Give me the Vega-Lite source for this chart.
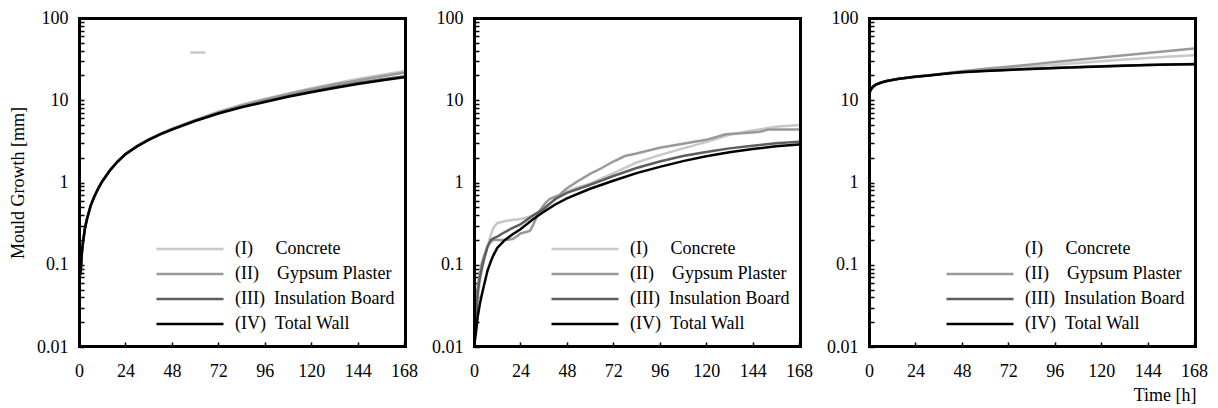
{
"$schema":"https://vega.github.io/schema/vega-lite/v6.json",
"background":"white",
"padding":{"left":8,"top":8,"right":0,"bottom":0},
"bounds":"flush",
"spacing":68,
"config":{
 "view":{"stroke":"#000000","strokeWidth":2},
 "font":"Liberation Serif, Times New Roman, Times, serif",
 "axis":{"labelFont":"Liberation Serif, Times New Roman, Times, serif","labelFontSize":18,"labelColor":"#000","titleFont":"Liberation Serif, Times New Roman, Times, serif","titleFontSize":18,"titleFontWeight":"normal","titleColor":"#000","grid":false,"domain":false,"ticks":true,"tickColor":"#000000","tickWidth":1.5,"labelOverlap":false,"labelBound":false,"labelFlush":false},
 "legend":{"orient":"none","legendX":76,"legendY":222,"padding":0,"symbolType":"stroke","symbolSize":4489,"symbolStrokeWidth":2.5,"labelFont":"Liberation Serif, Times New Roman, Times, serif","labelFontSize":18,"labelColor":"#000","labelOffset":10,"clipHeight":18,"rowPadding":7,"labelLimit":300}
},
"data":{"values":[
{"p":1,"s":"I","t":0.8,"v":0.077},{"p":1,"s":"I","t":1,"v":0.093},{"p":1,"s":"I","t":1.5,"v":0.143},{"p":1,"s":"I","t":2,"v":0.183},{"p":1,"s":"I","t":3,"v":0.273},{"p":1,"s":"I","t":4,"v":0.353},{"p":1,"s":"I","t":6,"v":0.524},{"p":1,"s":"I","t":8,"v":0.684},{"p":1,"s":"I","t":10,"v":0.855},{"p":1,"s":"I","t":12,"v":1.04},{"p":1,"s":"I","t":16,"v":1.42},{"p":1,"s":"I","t":20,"v":1.82},{"p":1,"s":"I","t":24,"v":2.23},{"p":1,"s":"I","t":30,"v":2.79},{"p":1,"s":"I","t":36,"v":3.35},{"p":1,"s":"I","t":42,"v":3.92},{"p":1,"s":"I","t":48,"v":4.5},{"p":1,"s":"I","t":60,"v":5.75},{"p":1,"s":"I","t":72,"v":7.25},{"p":1,"s":"I","t":84,"v":8.8},{"p":1,"s":"I","t":96,"v":10.4},{"p":1,"s":"I","t":108,"v":12.1},{"p":1,"s":"I","t":120,"v":14.0},{"p":1,"s":"I","t":132,"v":16.0},{"p":1,"s":"I","t":144,"v":18.1},{"p":1,"s":"I","t":156,"v":20.3},{"p":1,"s":"I","t":168,"v":22.6},
{"p":1,"s":"II","t":0.8,"v":0.077},{"p":1,"s":"II","t":1,"v":0.093},{"p":1,"s":"II","t":1.5,"v":0.143},{"p":1,"s":"II","t":2,"v":0.183},{"p":1,"s":"II","t":3,"v":0.273},{"p":1,"s":"II","t":4,"v":0.353},{"p":1,"s":"II","t":6,"v":0.523},{"p":1,"s":"II","t":8,"v":0.683},{"p":1,"s":"II","t":10,"v":0.853},{"p":1,"s":"II","t":12,"v":1.038},{"p":1,"s":"II","t":16,"v":1.415},{"p":1,"s":"II","t":20,"v":1.815},{"p":1,"s":"II","t":24,"v":2.22},{"p":1,"s":"II","t":30,"v":2.78},{"p":1,"s":"II","t":36,"v":3.34},{"p":1,"s":"II","t":42,"v":3.9},{"p":1,"s":"II","t":48,"v":4.47},{"p":1,"s":"II","t":60,"v":5.7},{"p":1,"s":"II","t":72,"v":7.15},{"p":1,"s":"II","t":84,"v":8.65},{"p":1,"s":"II","t":96,"v":10.2},{"p":1,"s":"II","t":108,"v":11.8},{"p":1,"s":"II","t":120,"v":13.6},{"p":1,"s":"II","t":132,"v":15.5},{"p":1,"s":"II","t":144,"v":17.4},{"p":1,"s":"II","t":156,"v":19.5},{"p":1,"s":"II","t":168,"v":21.6},
{"p":1,"s":"III","t":0.8,"v":0.076},{"p":1,"s":"III","t":1,"v":0.092},{"p":1,"s":"III","t":1.5,"v":0.142},{"p":1,"s":"III","t":2,"v":0.182},{"p":1,"s":"III","t":3,"v":0.272},{"p":1,"s":"III","t":4,"v":0.352},{"p":1,"s":"III","t":6,"v":0.522},{"p":1,"s":"III","t":8,"v":0.682},{"p":1,"s":"III","t":10,"v":0.852},{"p":1,"s":"III","t":12,"v":1.035},{"p":1,"s":"III","t":16,"v":1.41},{"p":1,"s":"III","t":20,"v":1.81},{"p":1,"s":"III","t":24,"v":2.21},{"p":1,"s":"III","t":30,"v":2.76},{"p":1,"s":"III","t":36,"v":3.31},{"p":1,"s":"III","t":42,"v":3.87},{"p":1,"s":"III","t":48,"v":4.42},{"p":1,"s":"III","t":60,"v":5.65},{"p":1,"s":"III","t":72,"v":6.95},{"p":1,"s":"III","t":84,"v":8.3},{"p":1,"s":"III","t":96,"v":9.65},{"p":1,"s":"III","t":108,"v":11.2},{"p":1,"s":"III","t":120,"v":12.8},{"p":1,"s":"III","t":132,"v":14.45},{"p":1,"s":"III","t":144,"v":16.2},{"p":1,"s":"III","t":156,"v":17.9},{"p":1,"s":"III","t":168,"v":19.5},
{"p":1,"s":"IV","t":0.8,"v":0.075},{"p":1,"s":"IV","t":1,"v":0.09},{"p":1,"s":"IV","t":1.5,"v":0.14},{"p":1,"s":"IV","t":2,"v":0.18},{"p":1,"s":"IV","t":3,"v":0.27},{"p":1,"s":"IV","t":4,"v":0.35},{"p":1,"s":"IV","t":6,"v":0.52},{"p":1,"s":"IV","t":8,"v":0.68},{"p":1,"s":"IV","t":10,"v":0.85},{"p":1,"s":"IV","t":12,"v":1.03},{"p":1,"s":"IV","t":16,"v":1.4},{"p":1,"s":"IV","t":20,"v":1.8},{"p":1,"s":"IV","t":24,"v":2.2},{"p":1,"s":"IV","t":30,"v":2.75},{"p":1,"s":"IV","t":36,"v":3.3},{"p":1,"s":"IV","t":42,"v":3.85},{"p":1,"s":"IV","t":48,"v":4.4},{"p":1,"s":"IV","t":60,"v":5.6},{"p":1,"s":"IV","t":72,"v":6.9},{"p":1,"s":"IV","t":84,"v":8.2},{"p":1,"s":"IV","t":96,"v":9.5},{"p":1,"s":"IV","t":108,"v":11.0},{"p":1,"s":"IV","t":120,"v":12.5},{"p":1,"s":"IV","t":132,"v":14.1},{"p":1,"s":"IV","t":144,"v":15.8},{"p":1,"s":"IV","t":156,"v":17.4},{"p":1,"s":"IV","t":168,"v":19.0},
{"p":1,"s":"mark","t":57.5,"v":38},{"p":1,"s":"mark","t":65.3,"v":38},
{"p":2,"s":"I","t":0,"v":0.01},{"p":2,"s":"I","t":1,"v":0.02},{"p":2,"s":"I","t":2,"v":0.04},{"p":2,"s":"I","t":3,"v":0.062},{"p":2,"s":"I","t":4,"v":0.085},{"p":2,"s":"I","t":5.3,"v":0.12},{"p":2,"s":"I","t":7,"v":0.17},{"p":2,"s":"I","t":8.7,"v":0.23},{"p":2,"s":"I","t":10,"v":0.28},{"p":2,"s":"I","t":12,"v":0.32},{"p":2,"s":"I","t":14,"v":0.33},{"p":2,"s":"I","t":16,"v":0.34},{"p":2,"s":"I","t":20,"v":0.35},{"p":2,"s":"I","t":24,"v":0.36},{"p":2,"s":"I","t":28,"v":0.38},{"p":2,"s":"I","t":32,"v":0.41},{"p":2,"s":"I","t":36,"v":0.48},{"p":2,"s":"I","t":42,"v":0.62},{"p":2,"s":"I","t":48,"v":0.78},{"p":2,"s":"I","t":54,"v":0.88},{"p":2,"s":"I","t":60,"v":0.97},{"p":2,"s":"I","t":72,"v":1.3},{"p":2,"s":"I","t":84,"v":1.75},{"p":2,"s":"I","t":96,"v":2.15},{"p":2,"s":"I","t":108,"v":2.6},{"p":2,"s":"I","t":120,"v":3.1},{"p":2,"s":"I","t":132,"v":3.8},{"p":2,"s":"I","t":144,"v":4.3},{"p":2,"s":"I","t":156,"v":4.75},{"p":2,"s":"I","t":168,"v":5.0},
{"p":2,"s":"II","t":0,"v":0.011},{"p":2,"s":"II","t":1,"v":0.03},{"p":2,"s":"II","t":2,"v":0.055},{"p":2,"s":"II","t":3,"v":0.08},{"p":2,"s":"II","t":4,"v":0.105},{"p":2,"s":"II","t":5.3,"v":0.13},{"p":2,"s":"II","t":7,"v":0.17},{"p":2,"s":"II","t":8.7,"v":0.19},{"p":2,"s":"II","t":10,"v":0.2},{"p":2,"s":"II","t":12,"v":0.2},{"p":2,"s":"II","t":16,"v":0.2},{"p":2,"s":"II","t":20,"v":0.205},{"p":2,"s":"II","t":22,"v":0.22},{"p":2,"s":"II","t":24,"v":0.24},{"p":2,"s":"II","t":27,"v":0.25},{"p":2,"s":"II","t":29,"v":0.26},{"p":2,"s":"II","t":31,"v":0.32},{"p":2,"s":"II","t":33,"v":0.42},{"p":2,"s":"II","t":36,"v":0.53},{"p":2,"s":"II","t":39,"v":0.63},{"p":2,"s":"II","t":41,"v":0.66},{"p":2,"s":"II","t":44,"v":0.7},{"p":2,"s":"II","t":48,"v":0.85},{"p":2,"s":"II","t":54,"v":1.05},{"p":2,"s":"II","t":60,"v":1.27},{"p":2,"s":"II","t":66,"v":1.5},{"p":2,"s":"II","t":72,"v":1.8},{"p":2,"s":"II","t":78,"v":2.1},{"p":2,"s":"II","t":84,"v":2.25},{"p":2,"s":"II","t":96,"v":2.65},{"p":2,"s":"II","t":108,"v":2.95},{"p":2,"s":"II","t":120,"v":3.3},{"p":2,"s":"II","t":130,"v":3.85},{"p":2,"s":"II","t":140,"v":4.0},{"p":2,"s":"II","t":147,"v":4.1},{"p":2,"s":"II","t":152,"v":4.4},{"p":2,"s":"II","t":160,"v":4.4},{"p":2,"s":"II","t":168,"v":4.4},
{"p":2,"s":"III","t":0,"v":0.01},{"p":2,"s":"III","t":1,"v":0.022},{"p":2,"s":"III","t":2,"v":0.048},{"p":2,"s":"III","t":3,"v":0.07},{"p":2,"s":"III","t":4,"v":0.09},{"p":2,"s":"III","t":5.3,"v":0.12},{"p":2,"s":"III","t":7,"v":0.165},{"p":2,"s":"III","t":8.7,"v":0.2},{"p":2,"s":"III","t":10,"v":0.21},{"p":2,"s":"III","t":12,"v":0.22},{"p":2,"s":"III","t":16,"v":0.25},{"p":2,"s":"III","t":20,"v":0.28},{"p":2,"s":"III","t":24,"v":0.31},{"p":2,"s":"III","t":30,"v":0.39},{"p":2,"s":"III","t":36,"v":0.48},{"p":2,"s":"III","t":42,"v":0.63},{"p":2,"s":"III","t":48,"v":0.75},{"p":2,"s":"III","t":60,"v":0.94},{"p":2,"s":"III","t":72,"v":1.2},{"p":2,"s":"III","t":84,"v":1.5},{"p":2,"s":"III","t":96,"v":1.8},{"p":2,"s":"III","t":108,"v":2.1},{"p":2,"s":"III","t":120,"v":2.35},{"p":2,"s":"III","t":132,"v":2.6},{"p":2,"s":"III","t":144,"v":2.8},{"p":2,"s":"III","t":156,"v":3.0},{"p":2,"s":"III","t":168,"v":3.13},
{"p":2,"s":"IV","t":0,"v":0.01},{"p":2,"s":"IV","t":1,"v":0.015},{"p":2,"s":"IV","t":2,"v":0.024},{"p":2,"s":"IV","t":3,"v":0.033},{"p":2,"s":"IV","t":4,"v":0.043},{"p":2,"s":"IV","t":5.3,"v":0.058},{"p":2,"s":"IV","t":7,"v":0.085},{"p":2,"s":"IV","t":8.7,"v":0.11},{"p":2,"s":"IV","t":10,"v":0.13},{"p":2,"s":"IV","t":12,"v":0.16},{"p":2,"s":"IV","t":16,"v":0.2},{"p":2,"s":"IV","t":20,"v":0.235},{"p":2,"s":"IV","t":24,"v":0.27},{"p":2,"s":"IV","t":30,"v":0.35},{"p":2,"s":"IV","t":36,"v":0.44},{"p":2,"s":"IV","t":42,"v":0.54},{"p":2,"s":"IV","t":48,"v":0.64},{"p":2,"s":"IV","t":60,"v":0.84},{"p":2,"s":"IV","t":72,"v":1.05},{"p":2,"s":"IV","t":84,"v":1.3},{"p":2,"s":"IV","t":96,"v":1.55},{"p":2,"s":"IV","t":108,"v":1.82},{"p":2,"s":"IV","t":120,"v":2.08},{"p":2,"s":"IV","t":132,"v":2.33},{"p":2,"s":"IV","t":144,"v":2.55},{"p":2,"s":"IV","t":156,"v":2.75},{"p":2,"s":"IV","t":168,"v":2.9},
{"p":3,"s":"I","t":0,"v":12.0},{"p":3,"s":"I","t":1,"v":13.5},{"p":3,"s":"I","t":2,"v":14.5},{"p":3,"s":"I","t":3.6,"v":15.5},{"p":3,"s":"I","t":6,"v":16.3},{"p":3,"s":"I","t":8.7,"v":17.0},{"p":3,"s":"I","t":12,"v":17.6},{"p":3,"s":"I","t":15.5,"v":18.2},{"p":3,"s":"I","t":20,"v":18.8},{"p":3,"s":"I","t":24,"v":19.3},{"p":3,"s":"I","t":30,"v":19.95},{"p":3,"s":"I","t":36,"v":20.65},{"p":3,"s":"I","t":42,"v":21.5},{"p":3,"s":"I","t":48,"v":22.3},{"p":3,"s":"I","t":60,"v":23.6},{"p":3,"s":"I","t":72,"v":24.6},{"p":3,"s":"I","t":84,"v":25.8},{"p":3,"s":"I","t":96,"v":27.0},{"p":3,"s":"I","t":108,"v":28.3},{"p":3,"s":"I","t":120,"v":29.8},{"p":3,"s":"I","t":132,"v":31.2},{"p":3,"s":"I","t":144,"v":32.7},{"p":3,"s":"I","t":156,"v":34.1},{"p":3,"s":"I","t":168,"v":35.3},
{"p":3,"s":"II","t":0,"v":12.0},{"p":3,"s":"II","t":1,"v":13.5},{"p":3,"s":"II","t":2,"v":14.5},{"p":3,"s":"II","t":3.6,"v":15.5},{"p":3,"s":"II","t":6,"v":16.3},{"p":3,"s":"II","t":8.7,"v":17.0},{"p":3,"s":"II","t":12,"v":17.6},{"p":3,"s":"II","t":15.5,"v":18.2},{"p":3,"s":"II","t":20,"v":18.8},{"p":3,"s":"II","t":24,"v":19.3},{"p":3,"s":"II","t":30,"v":19.95},{"p":3,"s":"II","t":36,"v":20.7},{"p":3,"s":"II","t":42,"v":21.6},{"p":3,"s":"II","t":48,"v":22.6},{"p":3,"s":"II","t":60,"v":24.2},{"p":3,"s":"II","t":72,"v":25.6},{"p":3,"s":"II","t":84,"v":27.3},{"p":3,"s":"II","t":96,"v":29.1},{"p":3,"s":"II","t":108,"v":31.0},{"p":3,"s":"II","t":120,"v":33.0},{"p":3,"s":"II","t":132,"v":35.2},{"p":3,"s":"II","t":144,"v":37.6},{"p":3,"s":"II","t":156,"v":40.0},{"p":3,"s":"II","t":168,"v":42.5},
{"p":3,"s":"III","t":0,"v":12.1},{"p":3,"s":"III","t":1,"v":13.6},{"p":3,"s":"III","t":2,"v":14.6},{"p":3,"s":"III","t":3.6,"v":15.6},{"p":3,"s":"III","t":6,"v":16.4},{"p":3,"s":"III","t":8.7,"v":17.1},{"p":3,"s":"III","t":12,"v":17.7},{"p":3,"s":"III","t":15.5,"v":18.3},{"p":3,"s":"III","t":20,"v":18.9},{"p":3,"s":"III","t":24,"v":19.4},{"p":3,"s":"III","t":30,"v":20.0},{"p":3,"s":"III","t":36,"v":20.7},{"p":3,"s":"III","t":42,"v":21.4},{"p":3,"s":"III","t":48,"v":22.0},{"p":3,"s":"III","t":60,"v":22.8},{"p":3,"s":"III","t":72,"v":23.5},{"p":3,"s":"III","t":84,"v":24.1},{"p":3,"s":"III","t":96,"v":24.7},{"p":3,"s":"III","t":108,"v":25.3},{"p":3,"s":"III","t":120,"v":25.9},{"p":3,"s":"III","t":132,"v":26.4},{"p":3,"s":"III","t":144,"v":26.9},{"p":3,"s":"III","t":156,"v":27.3},{"p":3,"s":"III","t":168,"v":27.6},
{"p":3,"s":"IV","t":0,"v":12.0},{"p":3,"s":"IV","t":1,"v":13.5},{"p":3,"s":"IV","t":2,"v":14.5},{"p":3,"s":"IV","t":3.6,"v":15.5},{"p":3,"s":"IV","t":6,"v":16.3},{"p":3,"s":"IV","t":8.7,"v":17.0},{"p":3,"s":"IV","t":12,"v":17.6},{"p":3,"s":"IV","t":15.5,"v":18.2},{"p":3,"s":"IV","t":20,"v":18.8},{"p":3,"s":"IV","t":24,"v":19.3},{"p":3,"s":"IV","t":30,"v":19.9},{"p":3,"s":"IV","t":36,"v":20.6},{"p":3,"s":"IV","t":42,"v":21.3},{"p":3,"s":"IV","t":48,"v":21.9},{"p":3,"s":"IV","t":60,"v":22.7},{"p":3,"s":"IV","t":72,"v":23.4},{"p":3,"s":"IV","t":84,"v":24.0},{"p":3,"s":"IV","t":96,"v":24.6},{"p":3,"s":"IV","t":108,"v":25.2},{"p":3,"s":"IV","t":120,"v":25.8},{"p":3,"s":"IV","t":132,"v":26.3},{"p":3,"s":"IV","t":144,"v":26.8},{"p":3,"s":"IV","t":156,"v":27.2},{"p":3,"s":"IV","t":168,"v":27.4},
{"p":1,"s":"frame","e":"b","t":0,"v":0.01},{"p":1,"s":"frame","e":"b","t":169,"v":0.01},{"p":1,"s":"frame","e":"t","t":0,"v":100},{"p":1,"s":"frame","e":"t","t":169,"v":100},{"p":1,"s":"frame","e":"l","t":0,"v":0.01},{"p":1,"s":"frame","e":"l","t":0,"v":100},{"p":1,"s":"frame","e":"r","t":169,"v":0.01},{"p":1,"s":"frame","e":"r","t":169,"v":100},
{"p":2,"s":"frame","e":"b","t":0,"v":0.01},{"p":2,"s":"frame","e":"b","t":169,"v":0.01},{"p":2,"s":"frame","e":"t","t":0,"v":100},{"p":2,"s":"frame","e":"t","t":169,"v":100},{"p":2,"s":"frame","e":"l","t":0,"v":0.01},{"p":2,"s":"frame","e":"l","t":0,"v":100},{"p":2,"s":"frame","e":"r","t":169,"v":0.01},{"p":2,"s":"frame","e":"r","t":169,"v":100},
{"p":3,"s":"frame","e":"b","t":0,"v":0.01},{"p":3,"s":"frame","e":"b","t":169,"v":0.01},{"p":3,"s":"frame","e":"t","t":0,"v":100},{"p":3,"s":"frame","e":"t","t":169,"v":100},{"p":3,"s":"frame","e":"l","t":0,"v":0.01},{"p":3,"s":"frame","e":"l","t":0,"v":100},{"p":3,"s":"frame","e":"r","t":169,"v":0.01},{"p":3,"s":"frame","e":"r","t":169,"v":100}
]},
"resolve":{"scale":{"color":"independent"}},
"hconcat":[
{
 "width":327,"height":329,
 "layer":[
  {"transform":[{"filter":"datum.p===1 && (datum.s==='I' || datum.s==='II' || datum.s==='III' || datum.s==='IV')"}],
   "mark":{"type":"line","strokeWidth":2.5,"clip":true},
   "encoding":{
    "x":{"field":"t","type":"quantitative","scale":{"domain":[0,169],"nice":false,"zero":false},
      "axis":{"title":null,"values":[0,6,12,18,24,30,36,42,48,54,60,66,72,78,84,90,96,102,108,114,120,126,132,138,144,150,156,162,168],"labelExpr":"datum.value % 24 === 0 ? datum.label : ''","tickSize":-5,"labelPadding":20}},
    "y":{"field":"v","type":"quantitative","scale":{"type":"log","domain":[0.01,100],"nice":false},
      "axis":{"title":"Mould Growth [mm]","titlePadding":9,"format":"~g","values":[0.01,0.02,0.03,0.04,0.05,0.06,0.07,0.08,0.09,0.1,0.2,0.3,0.4,0.5,0.6,0.7,0.8,0.9,1,2,3,4,5,6,7,8,9,10,20,30,40,50,60,70,80,90,100],"labelExpr":"abs(log(datum.value)/LN10 - round(log(datum.value)/LN10)) < 0.001 ? datum.label : ''","tickSize":-5,"labelPadding":16}},
    "color":{"field":"s","type":"nominal","scale":{"domain":["I","II","III","IV"],"range":["#c8c8c8","#999999","#5e5e5e","#000000"]},
      "legend":{"title":null,"labelExpr":"datum.label==='I' ? '(I)\u00a0\u00a0\u00a0\u00a0\u00a0Concrete' : datum.label==='II' ? '(II)\u00a0\u00a0\u00a0\u00a0Gypsum Plaster' : datum.label==='III' ? '(III)\u00a0\u00a0Insulation Board' : '(IV)\u00a0\u00a0Total Wall'"}}
   }},
  {"transform":[{"filter":"datum.p===1 && datum.s==='mark'"}],
   "mark":{"type":"line","strokeWidth":2.5,"color":"#c8c8c8","clip":true},
   "encoding":{"x":{"field":"t","type":"quantitative"},"y":{"field":"v","type":"quantitative"}}},
  {"transform":[{"filter":"datum.p===1 && datum.s==='frame'"}],
   "mark":{"type":"line","strokeWidth":4,"color":"#000000","clip":true},
   "encoding":{"x":{"field":"t","type":"quantitative"},"y":{"field":"v","type":"quantitative"},"detail":{"field":"e"}}}
 ]
},
{
 "width":327,"height":329,
 "layer":[
  {"transform":[{"filter":"datum.p===2 && (datum.s==='I' || datum.s==='II' || datum.s==='III' || datum.s==='IV')"}],
   "mark":{"type":"line","strokeWidth":2.5,"clip":true},
   "encoding":{
    "x":{"field":"t","type":"quantitative","scale":{"domain":[0,169],"nice":false,"zero":false},
      "axis":{"title":null,"values":[0,6,12,18,24,30,36,42,48,54,60,66,72,78,84,90,96,102,108,114,120,126,132,138,144,150,156,162,168],"labelExpr":"datum.value % 24 === 0 ? datum.label : ''","tickSize":-5,"labelPadding":20}},
    "y":{"field":"v","type":"quantitative","scale":{"type":"log","domain":[0.01,100],"nice":false},
      "axis":{"title":null,"format":"~g","values":[0.01,0.02,0.03,0.04,0.05,0.06,0.07,0.08,0.09,0.1,0.2,0.3,0.4,0.5,0.6,0.7,0.8,0.9,1,2,3,4,5,6,7,8,9,10,20,30,40,50,60,70,80,90,100],"labelExpr":"abs(log(datum.value)/LN10 - round(log(datum.value)/LN10)) < 0.001 ? datum.label : ''","tickSize":-5,"labelPadding":16}},
    "color":{"field":"s","type":"nominal","scale":{"domain":["I","II","III","IV"],"range":["#c8c8c8","#999999","#5e5e5e","#000000"]},
      "legend":{"title":null,"labelExpr":"datum.label==='I' ? '(I)\u00a0\u00a0\u00a0\u00a0\u00a0Concrete' : datum.label==='II' ? '(II)\u00a0\u00a0\u00a0\u00a0Gypsum Plaster' : datum.label==='III' ? '(III)\u00a0\u00a0Insulation Board' : '(IV)\u00a0\u00a0Total Wall'"}}
   }},
  {"transform":[{"filter":"datum.p===2 && datum.s==='frame'"}],
   "mark":{"type":"line","strokeWidth":4,"color":"#000000","clip":true},
   "encoding":{"x":{"field":"t","type":"quantitative"},"y":{"field":"v","type":"quantitative"},"detail":{"field":"e"}}}
 ]
},
{
 "width":327,"height":329,
 "layer":[
  {"transform":[{"filter":"datum.p===3 && (datum.s==='I' || datum.s==='II' || datum.s==='III' || datum.s==='IV')"}],
   "mark":{"type":"line","strokeWidth":2.5,"clip":true},
   "encoding":{
    "x":{"field":"t","type":"quantitative","scale":{"domain":[0,169],"nice":false,"zero":false},
      "axis":{"title":"Time [h]","titleAnchor":"end","titlePadding":6,"values":[0,6,12,18,24,30,36,42,48,54,60,66,72,78,84,90,96,102,108,114,120,126,132,138,144,150,156,162,168],"labelExpr":"datum.value % 24 === 0 ? datum.label : ''","tickSize":-5,"labelPadding":20}},
    "y":{"field":"v","type":"quantitative","scale":{"type":"log","domain":[0.01,100],"nice":false},
      "axis":{"title":null,"format":"~g","values":[0.01,0.02,0.03,0.04,0.05,0.06,0.07,0.08,0.09,0.1,0.2,0.3,0.4,0.5,0.6,0.7,0.8,0.9,1,2,3,4,5,6,7,8,9,10,20,30,40,50,60,70,80,90,100],"labelExpr":"abs(log(datum.value)/LN10 - round(log(datum.value)/LN10)) < 0.001 ? datum.label : ''","tickSize":-5,"labelPadding":16}},
    "color":{"field":"s","type":"nominal","scale":{"domain":["I","II","III","IV"],"range":["#c8c8c8","#999999","#5e5e5e","#000000"]},
      "legend":{"title":null,"labelExpr":"datum.label==='I' ? '(I)\u00a0\u00a0\u00a0\u00a0\u00a0Concrete' : datum.label==='II' ? '(II)\u00a0\u00a0\u00a0\u00a0Gypsum Plaster' : datum.label==='III' ? '(III)\u00a0\u00a0Insulation Board' : '(IV)\u00a0\u00a0Total Wall'",
        "encode":{"symbols":{"update":{"strokeOpacity":{"signal":"datum.value==='I' ? 0 : 1"}}}}}}
   }},
  {"transform":[{"filter":"datum.p===3 && datum.s==='frame'"}],
   "mark":{"type":"line","strokeWidth":4,"color":"#000000","clip":true},
   "encoding":{"x":{"field":"t","type":"quantitative"},"y":{"field":"v","type":"quantitative"},"detail":{"field":"e"}}}
 ]
}
]
}
